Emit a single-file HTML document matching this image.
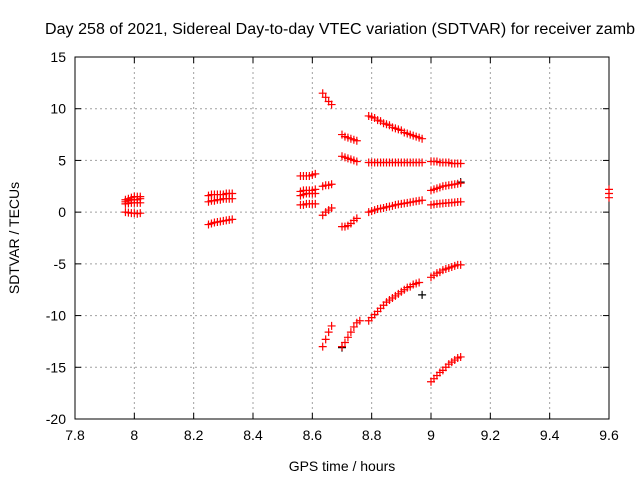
<!DOCTYPE html>
<html><head><meta charset="utf-8"><style>
body{margin:0;background:#fff}
svg{display:block;font-family:"Liberation Sans",sans-serif}
</style></head><body>
<svg width="640" height="480">
<g id="grid"></g>
<g id="axes"></g>
<g id="marks"></g>
<text x="340" y="34" text-anchor="middle" font-size="16" textLength="590">Day 258 of 2021, Sidereal Day-to-day VTEC variation (SDTVAR) for receiver zamb</text>
<text x="342" y="471" text-anchor="middle" font-size="14">GPS time / hours</text>
<text transform="translate(19,238) rotate(-90)" text-anchor="middle" font-size="14">SDTVAR / TECUs</text>
</svg>
<script>
const xTicks=[7.8,8,8.2,8.4,8.6,8.8,9,9.2,9.4,9.6];
const xTickLabels=["7.8","8","8.2","8.4","8.6","8.8","9","9.2","9.4","9.6"];
const yTicks=[-20,-15,-10,-5,0,5,10,15];
const yTickLabels=["-20","-15","-10","-5","0","5","10","15"];
const redX=[7.97,7.98,7.99,8.00,8.01,8.02, 7.97,7.98,7.99,8.00,8.01,8.02, 7.97,7.98,7.99,8.00,8.01,8.02, 7.97,7.98,7.99,8.00,8.01,8.02,
8.25,8.26,8.27,8.28,8.29,8.30,8.31,8.32,8.33, 8.25,8.26,8.27,8.28,8.29,8.30,8.31,8.32,8.33, 8.25,8.26,8.27,8.28,8.29,8.30,8.31,8.32,8.33,
8.56,8.57,8.58,8.59,8.60,8.61, 8.56,8.57,8.58,8.59,8.60,8.61, 8.56,8.57,8.58,8.59,8.60,8.61, 8.56,8.57,8.58,8.59,8.60,8.61,
8.635,8.645,8.655,8.665, 8.635,8.645,8.655,8.665, 8.635,8.645,8.655,8.665, 8.635,8.645,8.655,8.665,
8.70,8.71,8.72,8.73,8.74,8.75, 8.70,8.71,8.72,8.73,8.74,8.75, 8.70,8.71,8.72,8.73,8.74,8.75, 8.70,8.71,8.72,8.73,8.74,8.75,8.76,
8.79,8.80,8.81,8.82,8.83,8.84,8.85,8.86,8.87,8.88,8.89,8.90,8.91,8.92,8.93,8.94,8.95,8.96,8.97,
8.79,8.80,8.81,8.82,8.83,8.84,8.85,8.86,8.87,8.88,8.89,8.90,8.91,8.92,8.93,8.94,8.95,8.96,8.97,
8.79,8.80,8.81,8.82,8.83,8.84,8.85,8.86,8.87,8.88,8.89,8.90,8.91,8.92,8.93,8.94,8.95,8.96,8.97,
8.79,8.80,8.81,8.82,8.83,8.84,8.85,8.86,8.87,8.88,8.89,8.90,8.91,8.92,8.93,8.94,8.95,8.96,
9.00,9.01,9.02,9.03,9.04,9.05,9.06,9.07,9.08,9.09,9.10, 9.00,9.01,9.02,9.03,9.04,9.05,9.06,9.07,9.08,9.09,9.10, 9.00,9.01,9.02,9.03,9.04,9.05,9.06,9.07,9.08,9.09,9.10, 9.00,9.01,9.02,9.03,9.04,9.05,9.06,9.07,9.08,9.09,9.10, 9.00,9.01,9.02,9.03,9.04,9.05,9.06,9.07,9.08,9.09,9.10,
9.60,9.60,9.60];
const redY=[1.2,1.3,1.4,1.5,1.5,1.5, 0.8,0.85,0.9,0.9,0.9,0.9, 0.0,-0.05,-0.1,-0.1,-0.15,-0.1, 1.0,1.1,1.2,1.2,1.2,1.3,
1.6,1.7,1.7,1.7,1.7,1.7,1.8,1.8,1.8, 1.0,1.1,1.1,1.2,1.2,1.3,1.3,1.3,1.3, -1.2,-1.1,-1.0,-0.95,-0.9,-0.85,-0.8,-0.75,-0.7,
3.5,3.5,3.5,3.5,3.6,3.7, 2.0,2.1,2.1,2.1,2.1,2.2, 1.6,1.7,1.8,1.8,1.8,1.8, 0.7,0.7,0.8,0.8,0.8,0.8,
11.5,11.1,10.7,10.4, 2.5,2.6,2.6,2.7, -0.3,0.0,0.2,0.4, -13.0,-12.3,-11.6,-11.0,
7.5,7.3,7.2,7.1,7.0,6.9, 5.4,5.3,5.2,5.1,5.0,4.9, -1.4,-1.4,-1.3,-1.1,-0.8,-0.6, -13.0,-12.6,-12.1,-11.6,-11.1,-10.7,-10.5,
9.3,9.2,9.1,8.9,8.8,8.6,8.5,8.4,8.2,8.1,8.0,7.9,7.7,7.6,7.5,7.4,7.3,7.2,7.1,
4.8,4.8,4.8,4.8,4.8,4.8,4.8,4.8,4.8,4.8,4.8,4.8,4.8,4.8,4.8,4.8,4.8,4.8,4.8,
0.0,0.1,0.2,0.3,0.35,0.4,0.5,0.55,0.6,0.7,0.75,0.8,0.85,0.9,0.95,1.0,1.05,1.1,1.15,
-10.5,-10.2,-9.9,-9.6,-9.3,-9.0,-8.7,-8.5,-8.3,-8.1,-7.9,-7.7,-7.5,-7.3,-7.2,-7.0,-6.9,-6.8,
4.9,4.9,4.9,4.8,4.8,4.8,4.8,4.7,4.7,4.7,4.7, 2.1,2.2,2.3,2.4,2.5,2.55,2.6,2.65,2.7,2.75,2.8, 0.7,0.75,0.8,0.82,0.85,0.88,0.9,0.92,0.95,0.98,1.0, -6.3,-6.1,-5.9,-5.8,-5.6,-5.5,-5.4,-5.3,-5.2,-5.1,-5.1, -16.4,-16.1,-15.8,-15.5,-15.3,-15.0,-14.7,-14.5,-14.3,-14.1,-14.0,
2.2,1.8,1.4];
const blackX=[8.97,8.70,9.10];
const blackY=[-8.0,-13.1,2.9];
const L=75,R=609,T=57,B=419;
const sx=v=>L+(v-7.8)/(9.6-7.8)*(R-L);
const sy=v=>B-(v+20)/35*(B-T);
const NS="http://www.w3.org/2000/svg";
function mk(t,a,p){const e=document.createElementNS(NS,t);for(const k in a)e.setAttribute(k,a[k]);p.appendChild(e);return e;}
const grid=document.getElementById('grid'),axes=document.getElementById('axes'),marks=document.getElementById('marks');
xTicks.forEach((v,i)=>{const x=sx(v);
 if(i>0&&i<xTicks.length-1){const g=mk('line',{x1:x,x2:x,y1:T,y2:B,stroke:'#a0a0a0','stroke-dasharray':'2,3'},grid);}
 mk('line',{x1:x,x2:x,y1:B,y2:B-6,stroke:'#000'},axes);mk('line',{x1:x,x2:x,y1:T,y2:T+6,stroke:'#000'},axes);
 const t=mk('text',{x:x,y:B+21,'text-anchor':'middle','font-size':14},axes);t.textContent=xTickLabels[i];
 });
yTicks.forEach((v,i)=>{const y=sy(v);
 if(i>0&&i<yTicks.length-1){const g=mk('line',{x1:L,x2:R,y1:y,y2:y,stroke:'#a0a0a0','stroke-dasharray':'2,3'},grid);}
 mk('line',{x1:L,x2:L+6,y1:y,y2:y,stroke:'#000'},axes);mk('line',{x1:R,x2:R-6,y1:y,y2:y,stroke:'#000'},axes);
 const t=mk('text',{x:L-9,y:y+5,'text-anchor':'end','font-size':14},axes);t.textContent=yTickLabels[i];
 });
const fr=mk('rect',{x:L,y:T,width:R-L,height:B-T,fill:'none',stroke:'#000'},axes);

function plus(x,y,c,name){const p=mk('path',{d:`M${x-4},${y}h8M${x},${y-4}v8`,stroke:c,'stroke-width':1.2,fill:'none'},marks);
 }
blackX.forEach((v,i)=>plus(sx(v),sy(blackY[i]),'#000','black-point'));
redX.forEach((v,i)=>plus(sx(v),sy(redY[i]),'#ff0000','red-point'));
</script>
</body></html>
